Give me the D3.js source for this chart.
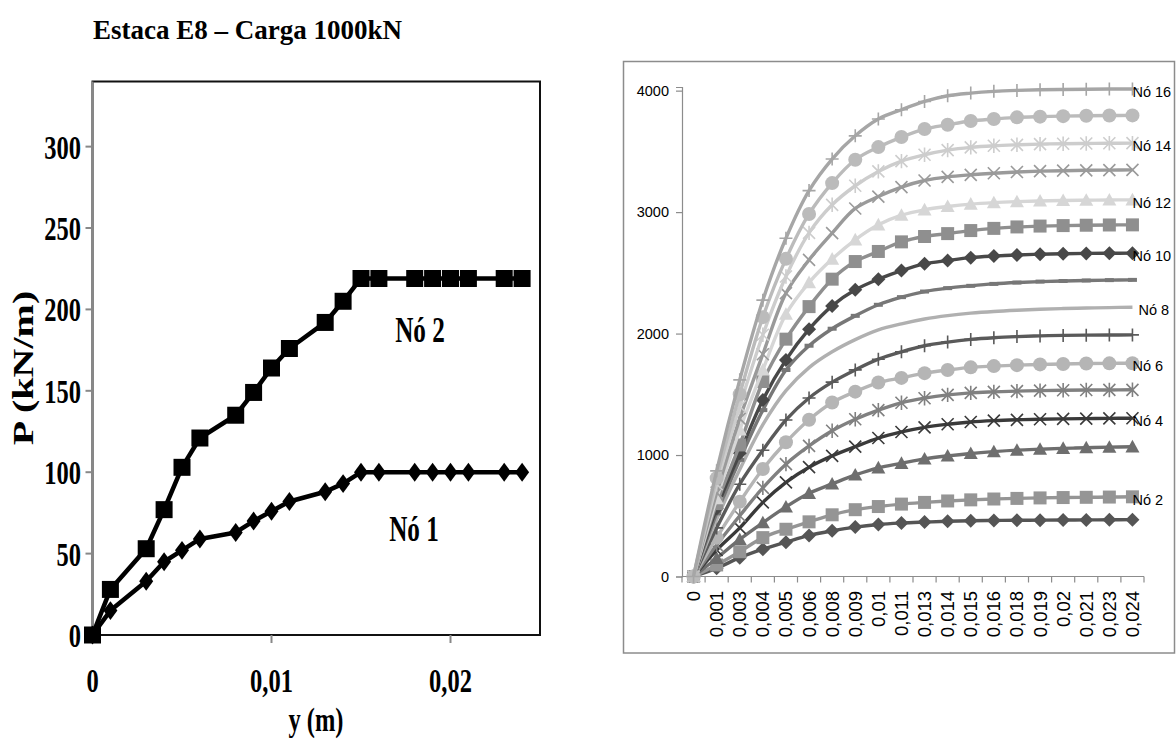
<!DOCTYPE html>
<html>
<head>
<meta charset="utf-8">
<script src="https://cdn.jsdelivr.net/npm/d3@7"></script>
<style>
body { margin: 0; background: #fff; }
</style>
</head>
<body>
<div class="chart"></div>
<script>
// ---- data ----
// depth y (m), shared by both charts
const depth = [0, 0.001, 0.003, 0.004, 0.005, 0.006, 0.008, 0.009, 0.01, 0.011, 0.013, 0.014, 0.015, 0.016, 0.018, 0.019, 0.02, 0.021, 0.023, 0.024];
const catLabels = ['0', '0,001', '0,003', '0,004', '0,005', '0,006', '0,008', '0,009', '0,01', '0,011', '0,013', '0,014', '0,015', '0,016', '0,018', '0,019', '0,02', '0,021', '0,023', '0,024'];

// left chart, P (kN/m)
const leftNo1 = [0, 15, 33, 45, 52, 59, 63, 70, 76, 82, 88, 93, 100, 100, 100, 100, 100, 100, 100, 100];
const leftNo2 = [0, 28, 53, 77, 103, 121, 135, 149, 164, 176, 192, 205, 219, 219, 219, 219, 219, 219, 219, 219];
const leftYTicks = [0, 50, 100, 150, 200, 250, 300];
const leftXTicks = [0, 0.01, 0.02];
const leftXTickLabels = ['0', '0,01', '0,02'];

// right chart, one array per node
const no1 = [0, 68, 155, 225, 283, 338, 376, 407, 428, 440, 448, 455, 459, 461, 463, 464, 465, 466, 467, 468];
const no2 = [0, 95, 204, 320, 389, 450, 508, 550, 576, 596, 610, 622, 631, 638, 643, 647, 650, 652, 654, 656];
const no3 = [0, 150, 305, 443, 573, 685, 762, 836, 895, 932, 968, 993, 1013, 1028, 1040, 1048, 1055, 1060, 1065, 1068];
const no4 = [0, 218, 400, 610, 775, 900, 993, 1069, 1140, 1190, 1228, 1253, 1272, 1283, 1290, 1295, 1298, 1300, 1302, 1303];
const no5 = [0, 260, 500, 730, 925, 1075, 1200, 1295, 1370, 1430, 1468, 1495, 1512, 1520, 1526, 1530, 1533, 1535, 1536, 1537];
const no6 = [0, 320, 615, 885, 1105, 1290, 1432, 1522, 1597, 1635, 1674, 1700, 1722, 1732, 1740, 1746, 1750, 1753, 1755, 1756];
const no7 = [0, 400, 760, 1040, 1289, 1470, 1600, 1701, 1789, 1850, 1900, 1930, 1952, 1966, 1975, 1981, 1985, 1987, 1988, 1989];
const no8 = [0, 470, 880, 1250, 1530, 1720, 1850, 1950, 2030, 2080, 2120, 2148, 2168, 2182, 2192, 2200, 2206, 2210, 2214, 2217];
const no9 = [0, 520, 960, 1370, 1700, 1900, 2040, 2146, 2237, 2300, 2346, 2374, 2393, 2409, 2420, 2428, 2433, 2437, 2440, 2442];
const no10 = [0, 560, 1015, 1454, 1783, 2036, 2228, 2360, 2448, 2519, 2574, 2601, 2625, 2638, 2647, 2653, 2657, 2660, 2661, 2662];
const no11 = [0, 600, 1083, 1605, 1954, 2222, 2448, 2593, 2676, 2755, 2799, 2823, 2848, 2866, 2878, 2885, 2889, 2892, 2894, 2895];
const no12 = [0, 640, 1206, 1701, 2160, 2420, 2613, 2772, 2895, 2975, 3019, 3046, 3066, 3078, 3086, 3092, 3096, 3098, 3100, 3101];
const no13 = [0, 690, 1300, 1830, 2333, 2607, 2827, 3030, 3128, 3206, 3260, 3290, 3307, 3320, 3330, 3337, 3341, 3344, 3346, 3348];
const no14 = [0, 760, 1400, 1990, 2470, 2829, 3060, 3217, 3335, 3420, 3472, 3510, 3533, 3546, 3554, 3560, 3563, 3565, 3567, 3568];
const no15 = [0, 810, 1500, 2135, 2615, 2985, 3239, 3431, 3535, 3618, 3684, 3719, 3750, 3766, 3780, 3786, 3790, 3793, 3795, 3796];
const no16 = [0, 870, 1619, 2275, 2785, 3177, 3437, 3628, 3766, 3843, 3911, 3958, 3980, 3994, 4002, 4007, 4010, 4012, 4013, 4013];
const rightNames = ['Nó 1', 'Nó 2', 'Nó 3', 'Nó 4', 'Nó 5', 'Nó 6', 'Nó 7', 'Nó 8', 'Nó 9', 'Nó 10', 'Nó 11', 'Nó 12', 'Nó 13', 'Nó 14', 'Nó 15', 'Nó 16'];
const rightYTicks = [0, 1000, 2000, 3000, 4000];

// styles (excel grey style)
const rightMarkers = ['diamond', 'square', 'triangle', 'x', 'star', 'circle', 'plus', 'none', 'dash', 'diamond', 'square', 'triangle', 'x', 'star', 'circle', 'plus'];
const rightColors = ['#555555', '#959595', '#6e6e6e', '#3a3a3a', '#808080', '#b5b5b5', '#5a5a5a', '#b0b0b0', '#777777', '#484848', '#8f8f8f', '#d6d6d6', '#9a9a9a', '#cdcdcd', '#bbbbbb', '#a6a6a6'];

const width = 1176;
const height = 740;
const serif = '"Liberation Serif", "Times New Roman", serif';
const sans = '"Liberation Sans", Arial, sans-serif';
const squeeze = 0.72; // left picture is squashed horizontally

const svg = d3.select('.chart')
	.append('svg')
	.attr('width', width)
	.attr('height', height);

// marker shapes centred on 0,0
function markerPath(type, s) {
	if (type === 'diamond') return `M0,${-s}L${s},0L0,${s}L${-s},0Z`;
	if (type === 'tallDiamond') return `M0,${-s * 1.35}L${s},0L0,${s * 1.35}L${-s},0Z`;
	if (type === 'square') return `M${-s},${-s}H${s}V${s}H${-s}Z`;
	if (type === 'triangle') return `M0,${-s}L${s},${s * 0.8}L${-s},${s * 0.8}Z`;
	if (type === 'circle') return `M${-s},0A${s},${s} 0 1,0 ${s},0A${s},${s} 0 1,0 ${-s},0Z`;
	if (type === 'x') return `M${-s},${-s}L${s},${s}M${-s},${s}L${s},${-s}`;
	if (type === 'star') return `M${-s},${-s}L${s},${s}M${-s},${s}L${s},${-s}M0,${-s * 1.2}V${s * 1.2}`;
	if (type === 'plus') return `M${-s},0H${s}M0,${-s}V${s}`;
	if (type === 'dash') return `M${-s},-2H${s}V2H${-s}Z`;
	return '';
}
const strokeMarkers = ['x', 'star', 'plus'];

// ================= left chart =================
const lx = d3.scaleLinear().domain([0, 0.025]).range([92.5, 540]);
const ly = d3.scaleLinear().domain([0, 340]).range([635, 81.5]);

svg.append('text')
	.attr('x', 93)
	.attr('y', 39)
	.attr('font-family', serif)
	.attr('font-weight', 'bold')
	.attr('font-size', 27)
	.text('Estaca E8 – Carga 1000kN');

// frame
svg.append('rect')
	.attr('x', lx(0))
	.attr('y', ly(340))
	.attr('width', lx(0.025) - lx(0))
	.attr('height', ly(0) - ly(340))
	.attr('fill', 'none')
	.attr('stroke', '#111')
	.attr('stroke-width', 2);

// y axis
svg.append('line')
	.attr('x1', lx(0)).attr('x2', lx(0))
	.attr('y1', ly(340)).attr('y2', ly(0))
	.attr('stroke', '#888').attr('stroke-width', 2);
svg.selectAll('.lyTick')
	.data(leftYTicks)
	.enter()
	.append('line')
	.attr('x1', lx(0) - 7).attr('x2', lx(0))
	.attr('y1', d => ly(d)).attr('y2', d => ly(d))
	.attr('stroke', '#888').attr('stroke-width', 2);
svg.selectAll('.lyLabel')
	.data(leftYTicks)
	.enter()
	.append('text')
	.attr('transform', d => `translate(81,${ly(d) + 12}) scale(${squeeze},1)`)
	.attr('text-anchor', 'end')
	.attr('font-family', serif)
	.attr('font-weight', 'bold')
	.attr('font-size', 34)
	.text(d => d);

// x axis
svg.selectAll('.lxTick')
	.data(leftXTicks)
	.enter()
	.append('line')
	.attr('x1', d => lx(d)).attr('x2', d => lx(d))
	.attr('y1', ly(0)).attr('y2', ly(0) + 8)
	.attr('stroke', '#888').attr('stroke-width', 2);
svg.selectAll('.lxLabel')
	.data(leftXTicks)
	.enter()
	.append('text')
	.attr('transform', d => `translate(${lx(d)},692) scale(${squeeze},1)`)
	.attr('text-anchor', 'middle')
	.attr('font-family', serif)
	.attr('font-weight', 'bold')
	.attr('font-size', 34)
	.text((d, i) => leftXTickLabels[i]);

svg.append('text')
	.attr('transform', `translate(316,731) scale(${squeeze},1)`)
	.attr('text-anchor', 'middle')
	.attr('font-family', serif)
	.attr('font-weight', 'bold')
	.attr('font-size', 34)
	.text('y (m)');

svg.append('text')
	.attr('transform', `translate(33,368) rotate(-90) scale(1,${squeeze})`)
	.attr('text-anchor', 'middle')
	.attr('font-family', serif)
	.attr('font-weight', 'bold')
	.attr('font-size', 40)
	.text('P (kN/m)');

const leftLine = d3.line()
	.x((d, i) => lx(depth[i]))
	.y(d => ly(d));

[leftNo1, leftNo2].forEach(function(vals, k) {
	svg.append('path')
		.attr('d', leftLine(vals))
		.attr('fill', 'none')
		.attr('stroke', '#000')
		.attr('stroke-width', 4.5)
		.attr('stroke-linejoin', 'round');
	svg.selectAll('.lm' + k)
		.data(vals)
		.enter()
		.append('path')
		.attr('transform', (d, i) => `translate(${lx(depth[i])},${ly(d)})`)
		.attr('d', k === 0 ? markerPath('tallDiamond', 7) : markerPath('square', 8.5))
		.attr('fill', '#000');
});

svg.append('text')
	.attr('transform', `translate(420,341.5) scale(${squeeze},1)`)
	.attr('text-anchor', 'middle')
	.attr('font-family', serif)
	.attr('font-weight', 'bold')
	.attr('font-size', 35)
	.text('Nó 2');
svg.append('text')
	.attr('transform', `translate(414,541) scale(${squeeze},1)`)
	.attr('text-anchor', 'middle')
	.attr('font-family', serif)
	.attr('font-weight', 'bold')
	.attr('font-size', 35)
	.text('Nó 1');

// ================= right chart =================
svg.append('rect')
	.attr('x', 623.5)
	.attr('y', 61.5)
	.attr('width', 551)
	.attr('height', 591.5)
	.attr('fill', 'none')
	.attr('stroke', '#8c8c8c')
	.attr('stroke-width', 1.5);

const rx = d3.scaleBand().domain(catLabels).range([682, 1144]);
const ry = d3.scaleLinear().domain([0, 4030]).range([576.5, 87]);
const cx = i => rx(catLabels[i]) + rx.bandwidth() / 2;

const yAxis = svg.append('g')
	.attr('transform', 'translate(682,0)')
	.call(d3.axisLeft(ry).tickValues(rightYTicks).tickSize(6).tickPadding(7).tickFormat(d => d));
yAxis.select('.domain').attr('stroke', '#8c8c8c').attr('stroke-width', 1.2);
yAxis.selectAll('.tick line').attr('stroke', '#8c8c8c').attr('stroke-width', 1.2);
yAxis.selectAll('.tick text')
	.attr('font-family', sans)
	.attr('font-size', 14.5)
	.attr('fill', '#000');

svg.append('line')
	.attr('x1', 682).attr('x2', 1144)
	.attr('y1', ry(0)).attr('y2', ry(0))
	.attr('stroke', '#8c8c8c').attr('stroke-width', 1.2);
svg.selectAll('.rxTick')
	.data(d3.range(catLabels.length + 1))
	.enter()
	.append('line')
	.attr('x1', i => 682 + i * rx.step()).attr('x2', i => 682 + i * rx.step())
	.attr('y1', ry(0)).attr('y2', ry(0) + 6)
	.attr('stroke', '#8c8c8c').attr('stroke-width', 1.2);
svg.selectAll('.rxLabel')
	.data(catLabels)
	.enter()
	.append('text')
	.attr('transform', (d, i) => `translate(${cx(i) + 6.5},591) rotate(-90)`)
	.attr('text-anchor', 'end')
	.attr('font-family', sans)
	.attr('font-size', 18.5)
	.attr('fill', '#000')
	.text(d => d);

const rightSeries = [no1, no2, no3, no4, no5, no6, no7, no8, no9, no10, no11, no12, no13, no14, no15, no16];
const rightLine = d3.line()
	.x((d, i) => cx(i))
	.y(d => ry(d))
	.curve(d3.curveCatmullRom.alpha(0.5));

rightSeries.forEach(function(vals, k) {
	const col = rightColors[k];
	const mk = rightMarkers[k];
	svg.append('path')
		.attr('d', rightLine(vals))
		.attr('fill', 'none')
		.attr('stroke', col)
		.attr('stroke-width', 3.4);
	if (mk === 'none') return;
	const size = { diamond: 7, square: 6.5, triangle: 7, circle: 7, x: 6, star: 6, plus: 6.5, dash: 4.5 }[mk];
	const stroked = strokeMarkers.indexOf(mk) >= 0;
	svg.selectAll('.rm' + k)
		.data(vals)
		.enter()
		.append('path')
		.attr('transform', (d, i) => `translate(${cx(i)},${ry(d)})`)
		.attr('d', markerPath(mk, size))
		.attr('fill', stroked ? 'none' : col)
		.attr('stroke', stroked ? col : 'none')
		.attr('stroke-width', 1.6);
});

// data labels on even nodes, written over the last point as in the source
rightSeries.forEach(function(vals, k) {
	if (k % 2 === 0) return;
	const last = vals.length - 1;
	svg.append('text')
		.attr('x', cx(last) + (rightMarkers[k] === 'none' ? 6 : 0))
		.attr('y', ry(vals[last]) + 3)
		.attr('dy', '0.35em')
		.attr('font-family', sans)
		.attr('font-size', 14.5)
		.attr('fill', '#000')
		.text(rightNames[k]);
});
</script>
</body>
</html>
